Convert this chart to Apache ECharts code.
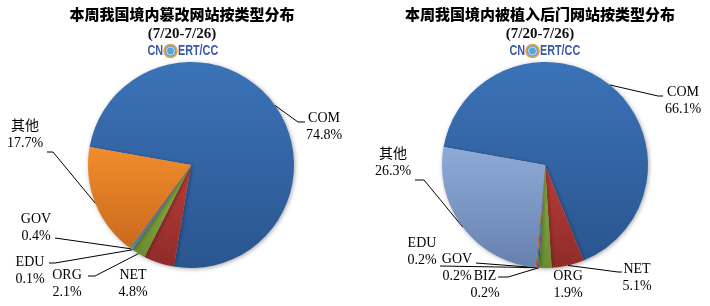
<!DOCTYPE html>
<html><head><meta charset="utf-8">
<script src="https://cdn.jsdelivr.net/npm/echarts@6/dist/echarts.min.js"></script>
<style>html,body{margin:0;padding:0;background:#fff}#c{width:710px;height:306px}</style>
</head><body><div id="c"></div>
<script>
// ---- data ----
const leftTitle = '本周我国境内篡改网站按类型分布';
const rightTitle = '本周我国境内被植入后门网站按类型分布';
const dateText = '(7/20-7/26)';
const leftCategories = ['COM', 'NET', 'ORG', 'EDU', 'GOV', '其他'];
const leftValues = [74.8, 4.8, 2.1, 0.1, 0.4, 17.7];
const rightCategories = ['COM', 'NET', 'ORG', 'BIZ', 'GOV', 'EDU', '其他'];
const rightValues = [66.1, 5.1, 1.9, 0.2, 0.2, 0.2, 26.3];

// ---- style / layout ----
function grad(a, b) { return new echarts.graphic.LinearGradient(0, 0, 0, 1, [{offset: 0, color: a}, {offset: 1, color: b}]); }
const colorMap = {
  COM: grad('#3b73b8', '#2a558f'),
  NET: grad('#b83e39', '#8f2b28'),
  ORG: grad('#8ab043', '#6c8c30'),
  BIZ: grad('#7a62b0', '#5e4a90'),
  GOV: grad('#6b58a8', '#4bacc6'),
  EDU: grad('#7058a8', '#5a4690'),
  '其他': grad('#f28c2c', '#c96a1e')
};
const rightColorMap = Object.assign({}, colorMap, {
  GOV: grad('#4bacc6', '#3a8aa0'),
  EDU: grad('#f79646', '#d07830'),
  '其他': grad('#8eabd8', '#6781ae')
});
const leftLayout = {
  COM: {x: 324, y: 127, line: [[298, 122], [305, 122]]},
  NET: {x: 133, y: 284},
  ORG: {x: 67, y: 284, line: [[95, 276], [88, 276]]},
  EDU: {x: 30, y: 271, line: [[55, 263], [49, 263]]},
  GOV: {x: 36, y: 228, line: [[55, 238]]},
  '其他': {x: 25, y: 135, line: [[53, 152], [47, 152]]}
};
const rightLayout = {
  COM: {x: 683, y: 101, line: [[658, 96], [663, 96]]},
  NET: {x: 637, y: 278, line: [[618, 272], [622, 272]]},
  ORG: {x: 568, y: 285},
  BIZ: {x: 485, y: 285, line: [[508, 277], [498, 277]]},
  GOV: {x: 457, y: 268, line: [[476, 263]]},
  EDU: {x: 422, y: 252, line: [[440, 266]]},
  '其他': {x: 393, y: 163, line: [[424, 180], [415, 180]]}
};

function makeData(cats, vals, cmap, layout) {
  return cats.map((c, i) => ({
    name: c, value: vals[i],
    itemStyle: {color: cmap[c]},
    labelLine: {show: !!layout[c].line}
  }));
}
function makeLayoutFn(cats, layout) {
  return function (p) {
    const cfg = layout[cats[p.dataIndex]];
    const res = {x: cfg.x, y: cfg.y, align: 'center', verticalAlign: 'middle'};
    if (cfg.line && p.labelLinePoints) {
      res.labelLinePoints = [p.labelLinePoints[0]].concat(cfg.line);
    }
    return res;
  };
}
const labelStyle = {
  show: true, position: 'outside', color: '#000',
  fontFamily: 'Liberation Serif, Times New Roman, Noto Sans CJK SC, serif',
  fontSize: 14, lineHeight: 17,
  formatter: p => p.name + '\n' + p.value.toFixed(1) + '%'
};
function pie(cats, vals, cmap, layout, cx) {
  return {
    type: 'pie', center: [cx, 165], radius: 103,
    startAngle: 170, clockwise: true, animation: false,
    avoidLabelOverlap: false, minAngle: 0,
    itemStyle: {shadowBlur: 4, shadowColor: 'rgba(0,0,0,0.35)', shadowOffsetX: 1, shadowOffsetY: 1},
    label: labelStyle,
    labelLine: {show: true, length: 10, length2: 5, lineStyle: {color: '#000', width: 1}},
    labelLayout: makeLayoutFn(cats, layout),
    emphasis: {disabled: true},
    data: makeData(cats, vals, cmap, layout)
  };
}
const titleFont = {fontFamily: 'Noto Sans CJK SC', fontWeight: 900, fontSize: 15, color: '#000'};
const dateFont = {fontFamily: 'Liberation Serif', fontWeight: 'bold', fontSize: 15, color: '#111'};
function titles(cx, text) {
  return [
    {text: text, left: cx, top: 7, textAlign: 'center', padding: 0, textStyle: titleFont},
    {text: dateText, left: cx, top: 27, textAlign: 'center', padding: 0, textStyle: dateFont}
  ];
}
const logoFont = 'bold 15px "Liberation Sans", sans-serif';
const logoColor = '#3a5aa8';
function logo(cx) {
  return {
    type: 'group', x: cx, y: 51, silent: true,
    children: [
      {type: 'text', x: -19, y: 0, scaleX: 0.72,
        style: {text: 'CN', font: logoFont, fill: logoColor, align: 'right', verticalAlign: 'middle', textAlign: 'right', textVerticalAlign: 'middle'}},
      {type: 'circle', shape: {cx: -11.5, cy: 0, r: 6.5},
        style: {fill: '#5aa2dc', stroke: '#f2a23a', lineWidth: 1.6}},
      {type: 'arc', shape: {cx: -11.5, cy: 0, r: 4, startAngle: 0, endAngle: Math.PI * 2},
        style: {fill: null, stroke: '#d8ecfa', lineWidth: 0.8}},
      {type: 'text', x: -4, y: 0, scaleX: 0.72,
        style: {text: 'ERT/CC', font: logoFont, fill: logoColor, align: 'left', verticalAlign: 'middle', textAlign: 'left', textVerticalAlign: 'middle'}}
    ]
  };
}
const chart = echarts.init(document.getElementById('c'));
chart.setOption({
  backgroundColor: '#fff',
  animation: false,
  title: titles(182, leftTitle).concat(titles(540, rightTitle)),
  graphic: [logo(182), logo(544)],
  series: [
    pie(leftCategories, leftValues, colorMap, leftLayout, 191),
    pie(rightCategories, rightValues, rightColorMap, rightLayout, 545)
  ]
});
</script></body></html>
